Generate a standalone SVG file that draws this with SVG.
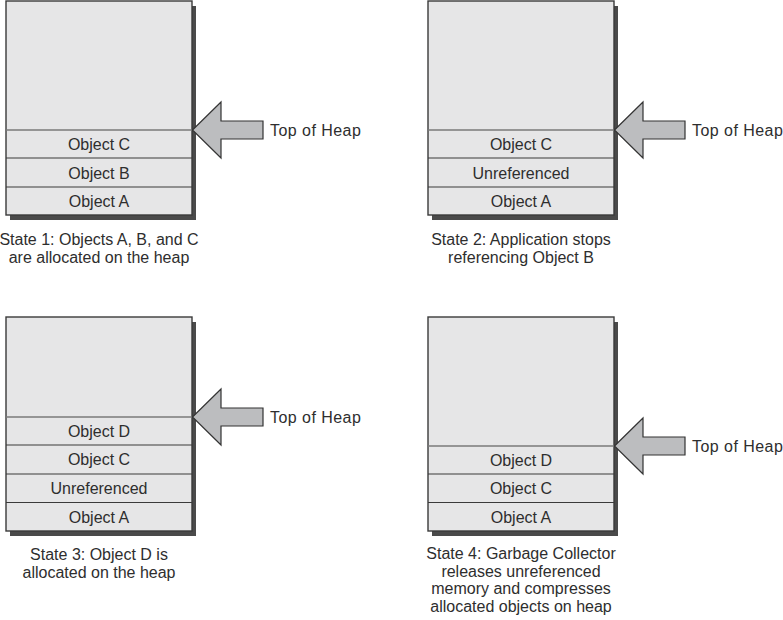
<svg xmlns="http://www.w3.org/2000/svg" width="783" height="620" viewBox="0 0 783 620">
<style>
.shadow{fill:#4a4a4a}
.box{fill:#e6e6e7;stroke:#3a3a3a;stroke-width:1.4}
.sep{stroke:#3a3a3a;stroke-width:1.2}
.top{stroke:#7a7a7a;stroke-width:1.6}
.arrow{fill:#bcbdbf;stroke:#333;stroke-width:1.2;stroke-linejoin:miter}
text{font-family:"Liberation Sans",Arial,sans-serif;font-size:16px;fill:#2e2e2e}
.c{text-anchor:middle}
.toh{letter-spacing:0.45px}
</style>
<rect width="783" height="620" fill="#fff"/>

<g id="state1">
<rect class="shadow" x="10" y="6" width="186" height="214"/>
<rect class="box" x="6" y="1" width="186" height="214"/>
<line class="sep" x1="6" y1="158" x2="192" y2="158"/>
<line class="sep" x1="6" y1="187" x2="192" y2="187"/>
<line class="top" x1="6" y1="130" x2="192" y2="130"/>
<text class="c" x="99" y="150">Object C</text>
<text class="c" x="99" y="178.5">Object B</text>
<text class="c" x="99" y="207">Object A</text>
<polygon class="arrow" points="192.5,130 221,102 221,121 263,121 263,139 221,139 221,158"/>
<text class="toh" x="270" y="136">Top of Heap</text>
<text class="c" x="99" y="245">State 1: Objects A, B, and C</text>
<text class="c" x="99" y="263">are allocated on the heap</text>
</g>

<g id="state2">
<rect class="shadow" x="432" y="6" width="186" height="214"/>
<rect class="box" x="428" y="1" width="186" height="214"/>
<line class="sep" x1="428" y1="158" x2="614" y2="158"/>
<line class="sep" x1="428" y1="187" x2="614" y2="187"/>
<line class="top" x1="428" y1="130" x2="614" y2="130"/>
<text class="c" x="521" y="150">Object C</text>
<text class="c" x="521" y="178.5">Unreferenced</text>
<text class="c" x="521" y="207">Object A</text>
<polygon class="arrow" points="614.5,130 643,102 643,121 685,121 685,139 643,139 643,158"/>
<text class="toh" x="692" y="136">Top of Heap</text>
<text class="c" x="521" y="245">State 2: Application stops</text>
<text class="c" x="521" y="263">referencing Object B</text>
</g>

<g id="state3">
<rect class="shadow" x="10" y="322" width="186" height="214"/>
<rect class="box" x="6" y="317" width="186" height="214"/>
<line class="sep" x1="6" y1="445" x2="192" y2="445"/>
<line class="sep" x1="6" y1="474" x2="192" y2="474"/>
<line class="sep" x1="6" y1="502.5" x2="192" y2="502.5"/>
<line class="top" x1="6" y1="417" x2="192" y2="417"/>
<text class="c" x="99" y="437">Object D</text>
<text class="c" x="99" y="465">Object C</text>
<text class="c" x="99" y="494">Unreferenced</text>
<text class="c" x="99" y="522.5">Object A</text>
<polygon class="arrow" points="192.5,417 221,389 221,408 263,408 263,426 221,426 221,445"/>
<text class="toh" x="270" y="423">Top of Heap</text>
<text class="c" x="99" y="560">State 3: Object D is</text>
<text class="c" x="99" y="578">allocated on the heap</text>
</g>

<g id="state4">
<rect class="shadow" x="432" y="322" width="186" height="214"/>
<rect class="box" x="428" y="317" width="186" height="214"/>
<line class="sep" x1="428" y1="474" x2="614" y2="474"/>
<line class="sep" x1="428" y1="502.5" x2="614" y2="502.5"/>
<line class="top" x1="428" y1="446" x2="614" y2="446"/>
<text class="c" x="521" y="465.5">Object D</text>
<text class="c" x="521" y="494">Object C</text>
<text class="c" x="521" y="522.5">Object A</text>
<polygon class="arrow" points="614.5,446 643,418 643,437 685,437 685,455 643,455 643,474"/>
<text class="toh" x="692" y="452">Top of Heap</text>
<text class="c" x="521" y="559">State 4: Garbage Collector</text>
<text class="c" x="521" y="576.5">releases unreferenced</text>
<text class="c" x="521" y="594">memory and compresses</text>
<text class="c" x="521" y="611.5">allocated objects on heap</text>
</g>
</svg>
